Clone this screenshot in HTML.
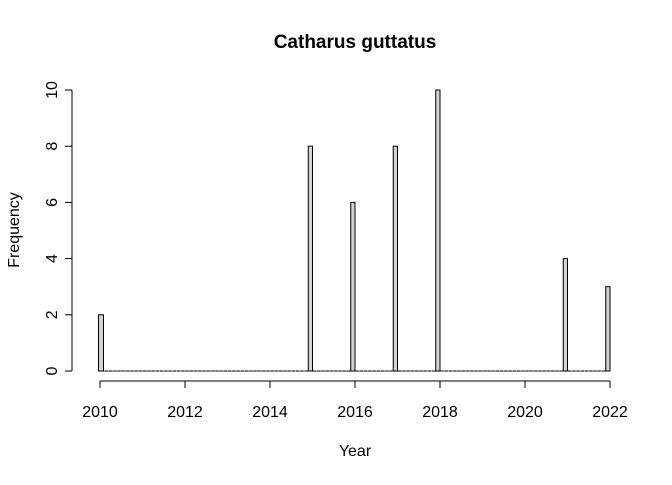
<!DOCTYPE html><html><head><style>body{margin:0;background:#fff}svg{font-family:"Liberation Sans",sans-serif}</style></head><body>
<svg width="672" height="480">
<text x="355" y="48" text-anchor="middle" font-weight="bold" font-size="19">Catharus guttatus</text>
<text x="355" y="456" text-anchor="middle" font-size="16">Year</text>
<text transform="translate(19,230) rotate(-90)" text-anchor="middle" font-size="16">Frequency</text>
<g id="axes"></g><g id="bars"></g>
</svg>
<script>
const years=[2010,2015,2016,2017,2018,2021,2022];
const counts=[2,8,6,8,10,4,3];
const xTicks=[2010,2012,2014,2016,2018,2020,2022];
const yTicks=[0,2,4,6,8,10];
const NS="http://www.w3.org/2000/svg";
const X=v=>100+(v-2010)*42.5, Y=v=>371-v*28.1;
function mk(t,a,p){const e=document.createElementNS(NS,t);for(const k in a)e.setAttribute(k,a[k]);p.appendChild(e);return e;}
const ax=document.getElementById('axes'), bg=document.getElementById('bars');
let l=mk('line',{x1:X(2010),x2:X(2022),y1:381,y2:381,stroke:'#000'},ax);


xTicks.forEach(t=>{const tk=mk('line',{x1:X(t),x2:X(t),y1:381,y2:388,stroke:'#000'},ax);


const tx=mk('text',{x:X(t),y:417,'text-anchor':'middle','font-size':16},ax);tx.textContent=t;

});
l=mk('line',{x1:72,x2:72,y1:Y(0),y2:Y(10),stroke:'#000'},ax);


yTicks.forEach(t=>{const tk=mk('line',{x1:65,x2:72,y1:Y(t),y2:Y(t),stroke:'#000'},ax);


const tx=mk('text',{transform:`translate(57,${Y(t)}) rotate(-90)`,'text-anchor':'middle','font-size':16},ax);tx.textContent=t;

});
for(let i=0;i<120;i++){const x=X(2010+i*0.1);
const z=mk('rect',{x:x,y:Y(0),width:4.25,height:0.01,fill:'none',stroke:'#000','stroke-width':1},bg);


mk('line',{x1:x,x2:x,y1:Y(0)-0.5,y2:Y(0)+0.5,stroke:'#777'},bg);}
years.forEach((y,i)=>{const x0=i===0?X(y)-1.5:X(y)-4.25;
const r=mk('rect',{x:x0,y:Y(counts[i]),width:i===0?5:4.25,height:Y(0)-Y(counts[i]),fill:'#d3d3d3',stroke:'#000','stroke-width':1},bg);

});
</script></body></html>
